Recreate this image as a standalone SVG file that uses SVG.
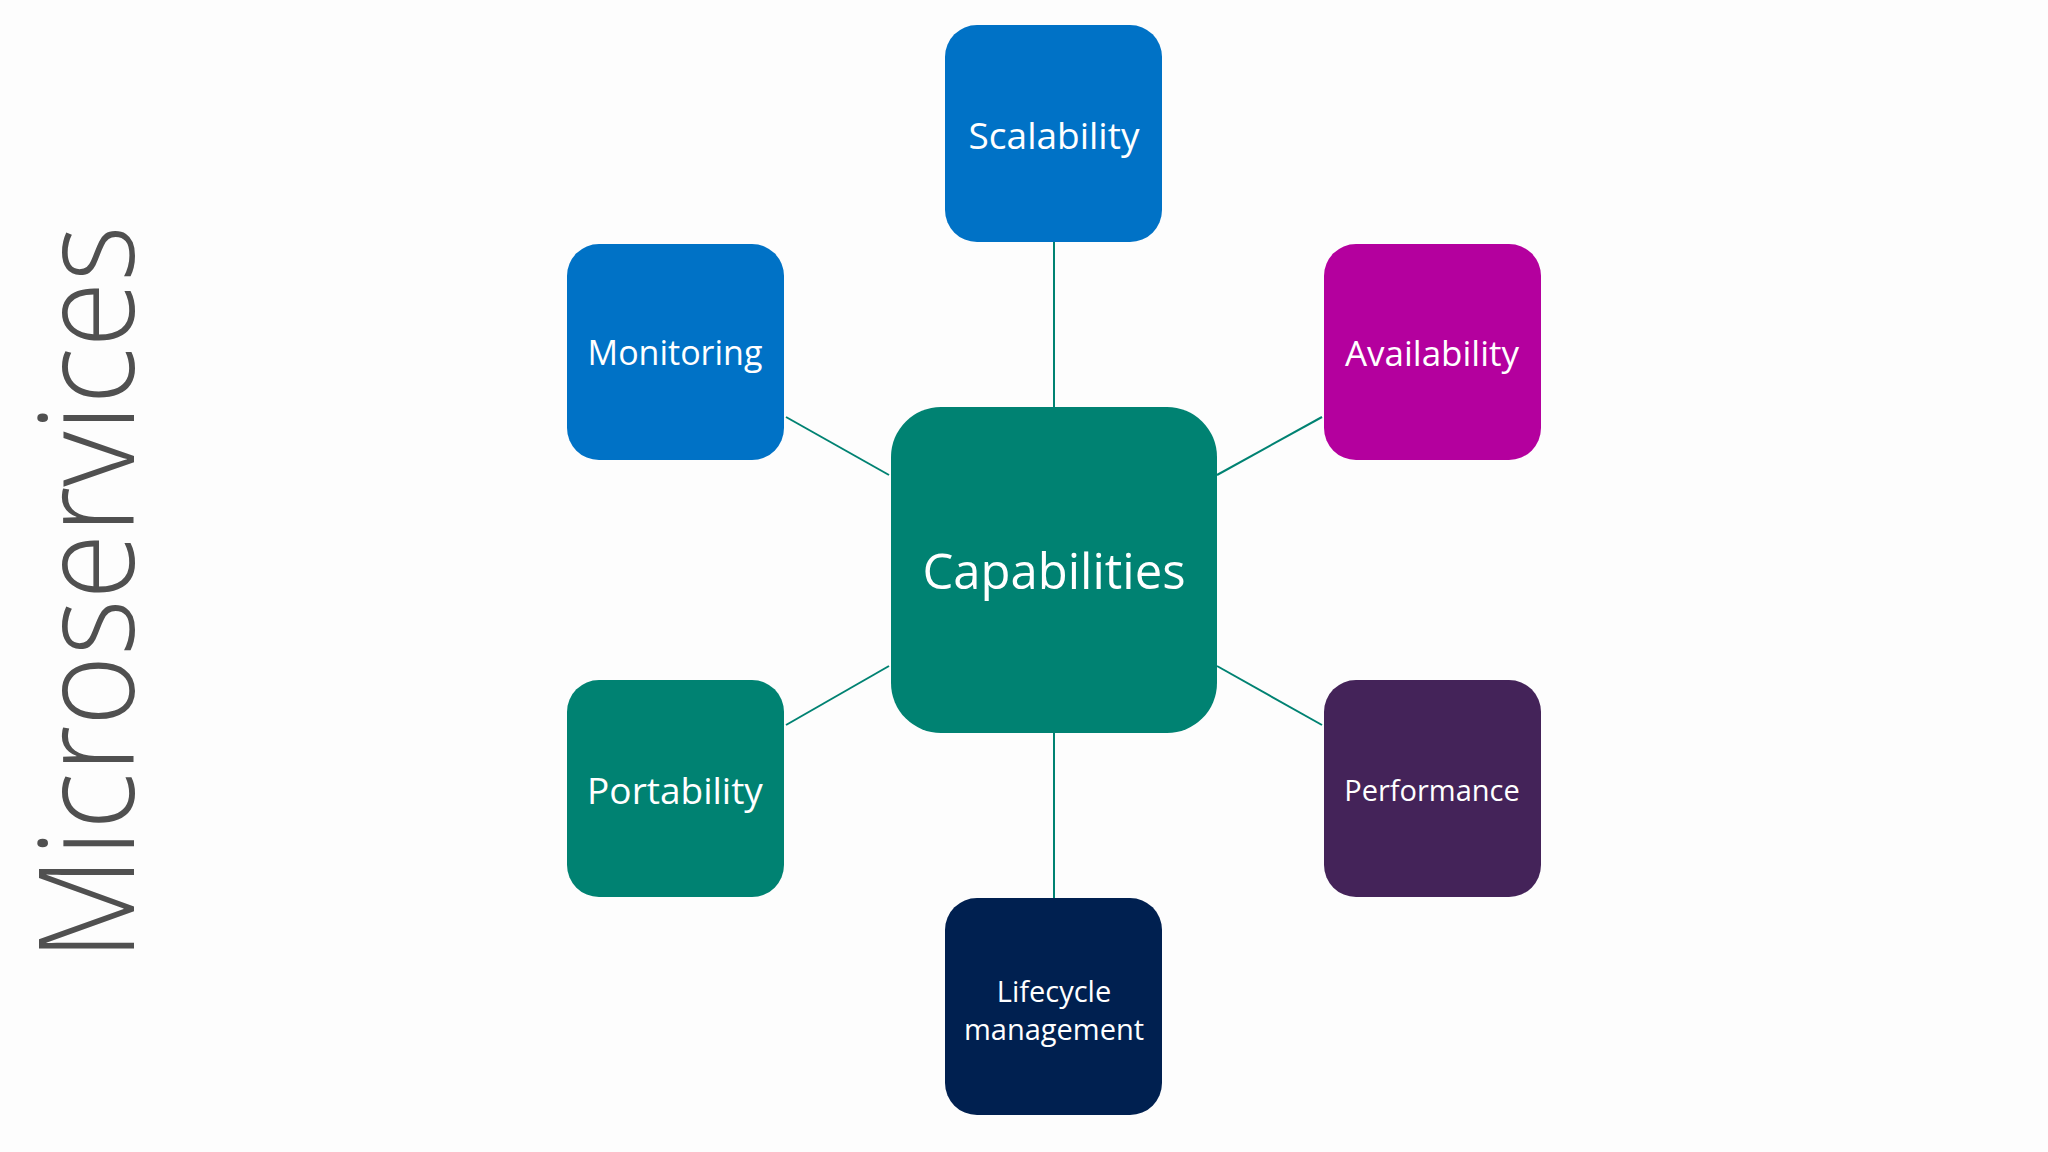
<svg xmlns="http://www.w3.org/2000/svg" width="2048" height="1152" viewBox="0 0 2048 1152">
<style>
.t{font-family:"Open Sans","Noto Sans",sans-serif;fill:#fff;text-anchor:middle;dominant-baseline:central}
.c line{stroke:#008272;stroke-width:2}
</style>
<rect width="2048" height="1152" fill="#fdfdfd"/>
<text transform="translate(134,593) rotate(-90)" font-family="'Open Sans','Noto Sans',sans-serif" font-weight="300" font-size="132" fill="#505050" text-anchor="middle" textLength="735" lengthAdjust="spacingAndGlyphs">Microservices</text>
<g class="c" id="connectors">
<line x1="1054" y1="242" x2="1054" y2="407"/>
<line x1="1054" y1="733" x2="1054" y2="898"/>
<line x1="786" y1="417" x2="889" y2="475"/>
<line x1="1217" y1="475" x2="1322" y2="417"/>
<line x1="786" y1="725" x2="889" y2="666"/>
<line x1="1217" y1="666" x2="1322" y2="725"/>
</g>
<g id="capabilities"><rect x="891" y="407" width="326" height="326" rx="50" fill="#008272"/><text class="t" x="1054" y="570" font-size="49">Capabilities</text></g>
<g id="scalability"><rect x="945" y="25" width="217" height="217" rx="32" fill="#0072C6"/><text class="t" x="1054" y="134" font-size="37">Scalability</text></g>
<g id="monitoring"><rect x="567" y="244" width="217" height="216" rx="32" fill="#0072C6"/><text class="t" x="675" y="352" font-size="34">Monitoring</text></g>
<g id="availability"><rect x="1324" y="244" width="217" height="216" rx="32" fill="#B4009E"/><text class="t" x="1432" y="352" font-size="35">Availability</text></g>
<g id="portability"><rect x="567" y="680" width="217" height="217" rx="32" fill="#008272"/><text class="t" x="675" y="789" font-size="37">Portability</text></g>
<g id="performance"><rect x="1324" y="680" width="217" height="217" rx="32" fill="#442359"/><text class="t" x="1432" y="789" font-size="29">Performance</text></g>
<g id="lifecycle"><rect x="945" y="898" width="217" height="217" rx="32" fill="#002050"/><text class="t" x="1054" y="990" font-size="29">Lifecycle</text><text class="t" x="1054" y="1028" font-size="29">management</text></g>
</svg>
